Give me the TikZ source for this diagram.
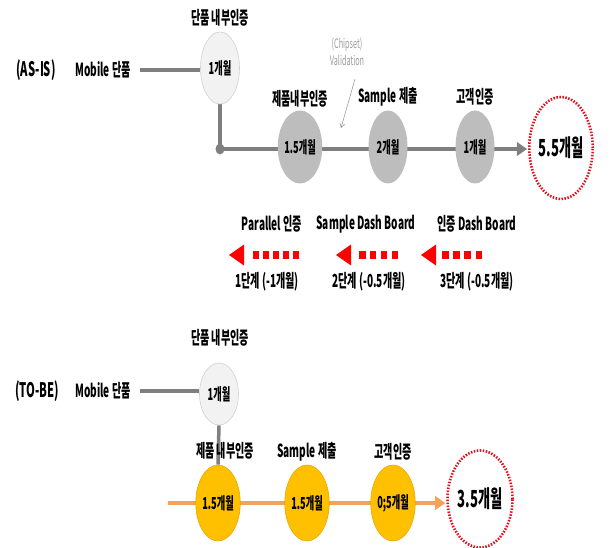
\documentclass[tikz,border=0pt]{standalone}
\usepackage{fontspec}
\setmainfont{Noto Sans CJK KR}[FakeStretch=0.56]
\usetikzlibrary{shapes.geometric,arrows.meta,backgrounds}
\definecolor{lineGray}{HTML}{7F7F7F}
\definecolor{lightFill}{HTML}{F2F2F2}
\definecolor{lightEdge}{HTML}{D0D0D0}
\definecolor{midFill}{HTML}{BDBDBD}
\definecolor{orangeFill}{HTML}{FFC000}
\definecolor{orangeEdge}{HTML}{E8A800}
\definecolor{orangeLine}{HTML}{F4A15A}
\definecolor{redDot}{HTML}{E0101C}
\definecolor{redArrow}{HTML}{FF0000}
\definecolor{noteGray}{HTML}{9A9A9A}
\tikzset{
  lbl/.style={font=\bfseries\fontsize{18}{20}\selectfont, inner sep=1pt},
  big/.style={font=\bfseries\fontsize{20}{22}\selectfont, inner sep=1pt},
  inlbl/.style={font=\bfseries\fontsize{16.5}{18}\selectfont},
  oval/.style={ellipse, inner sep=0pt, minimum width=39pt, minimum height=73pt, inlbl},
  lightoval/.style={oval, fill=lightFill, draw=lightEdge, line width=0.6pt},
  grayoval/.style={oval, fill=midFill},
  orangeoval/.style={oval, fill=orangeFill, draw=orangeEdge, line width=0.6pt, minimum height=76pt},
  total/.style={ellipse, inner sep=0pt, draw=redDot, line width=2.6pt, dash pattern=on 1.5pt off 1.5pt,
    font=\bfseries\fontsize{23.5}{25}\selectfont},
  grayline/.style={draw=lineGray, line width=4.5pt},
  orline/.style={draw=orangeLine, line width=4.5pt},
  redarrow/.style={draw=redArrow, line width=8pt, -{Triangle[length=15pt,width=21pt,line width=0pt]}},
}
\begin{document}
\begin{tikzpicture}[x=1pt,y=-1pt]
\useasboundingbox (0,0) rectangle (610,548);

% ---------------- AS-IS ----------------
\node[big] (asis) at (36,70) {(AS-IS)};
\node[lbl] (mob1) at (103,70) {Mobile 단품};
\node[lbl] (l11) at (220,18) {단품 내부인증};
\node[lightoval, minimum height=72pt] (a1) at (220,68) {1개월};
\coordinate (d1) at (220,149);
\node[lbl] (l12) at (300,99) {제품내부인증};
\node[grayoval] (a2) at (300,147) {1.5개월};
\node[lbl] (l13) at (388,97) {Sample 제출};
\node[grayoval] (a3) at (388,147) {2개월};
\node[lbl] (l14) at (475,97) {고객인증};
\node[grayoval] (a4) at (475,147) {1개월};
\node[total, minimum width=63pt, minimum height=102pt] (t1) at (561,148) {5.5개월};

\node[font=\fontsize{13}{14}\selectfont, text=noteGray, align=center, inner sep=1pt] (note) at (347,52) {(Chipset)\\[3pt]Validation};
\coordinate (ns) at (355,79);
\coordinate (ne) at (341,128);
\draw[noteGray, line width=0.6pt, -{Straight Barb[length=4pt,width=5pt]}] (ns) -- (ne);

\begin{scope}[on background layer]
  \draw[grayline] (mob1.east) ++(8,0) -- (a1.west |- mob1.east);
  \draw[grayline] (a1.south) -- (d1);
  \draw[grayline, -{Triangle[length=10pt,width=14pt,line width=0pt]}, shorten >=1pt] (d1) -- (d1 -| t1.west);
  \fill[lineGray] (d1) ellipse (4.5pt and 5.5pt);
\end{scope}

% ---------------- middle steps ----------------
\node[lbl] (s1t) at (272,224) {Parallel 인증};
\node[lbl] (s2t) at (366,224) {Sample Dash Board};
\node[lbl] (s3t) at (477,224) {인증 Dash Board};
\node[lbl] (s1b) at (267,282) {1단계 (-1개월)};
\node[lbl] (s2b) at (369,282) {2단계 (-0.5개월)};
\node[lbl] (s3b) at (477,282) {3단계 (-0.5개월)};
\coordinate (r1s) at (299,255); \coordinate (r1e) at (229,255);
\coordinate (r2s) at (398,255); \coordinate (r2e) at (336,255);
\coordinate (r3s) at (482,255); \coordinate (r3e) at (421,255);
\draw[redarrow, dash pattern=on 6pt off 4pt on 6pt off 4pt on 6pt off 4pt on 6pt off 4pt on 6pt off 30pt] (r1s) -- (r1e);
\draw[redarrow, dash pattern=on 6.5pt off 4.3pt on 6.5pt off 4.3pt on 6.5pt off 4.3pt on 6.5pt off 30pt] (r2s) -- (r2e);
\draw[redarrow, dash pattern=on 6.5pt off 4.6pt on 6.5pt off 4.6pt on 6.5pt off 4.6pt on 6.5pt off 30pt] (r3s) -- (r3e);

% ---------------- TO-BE ----------------
\node[big] (tobe) at (37,391) {(TO-BE)};
\node[lbl] (mob2) at (103,391) {Mobile 단품};
\node[lbl] (l21) at (220,338) {단품 내부인증};
\node[lightoval, minimum height=62pt] (b1) at (219,394) {1개월};
\node[lbl] (l22) at (225,451) {제품 내부인증};
\node[orangeoval] (b2) at (218,503) {1.5개월};
\node[lbl] (l23) at (307,452) {Sample 제출};
\node[orangeoval] (b3) at (307,503) {1.5개월};
\node[lbl] (l24) at (393,452) {고객인증};
\node[orangeoval] (b4) at (393,503) {0;5개월};
\node[total, minimum width=65pt, minimum height=97pt] (t2) at (480,499) {3.5개월};
\coordinate (os) at (168,503);

\begin{scope}[on background layer]
  \draw[grayline] (mob2.east) ++(8,0) -- (b1.west |- mob2.east);
  \draw[draw=lineGray, line width=3.5pt] (b1.south) -- (b2.north);
  \draw[orline, -{Triangle[length=10pt,width=14pt,line width=0pt]}, shorten >=1pt] (os) -- (os -| t2.west);
\end{scope}
\end{tikzpicture}
\end{document}
